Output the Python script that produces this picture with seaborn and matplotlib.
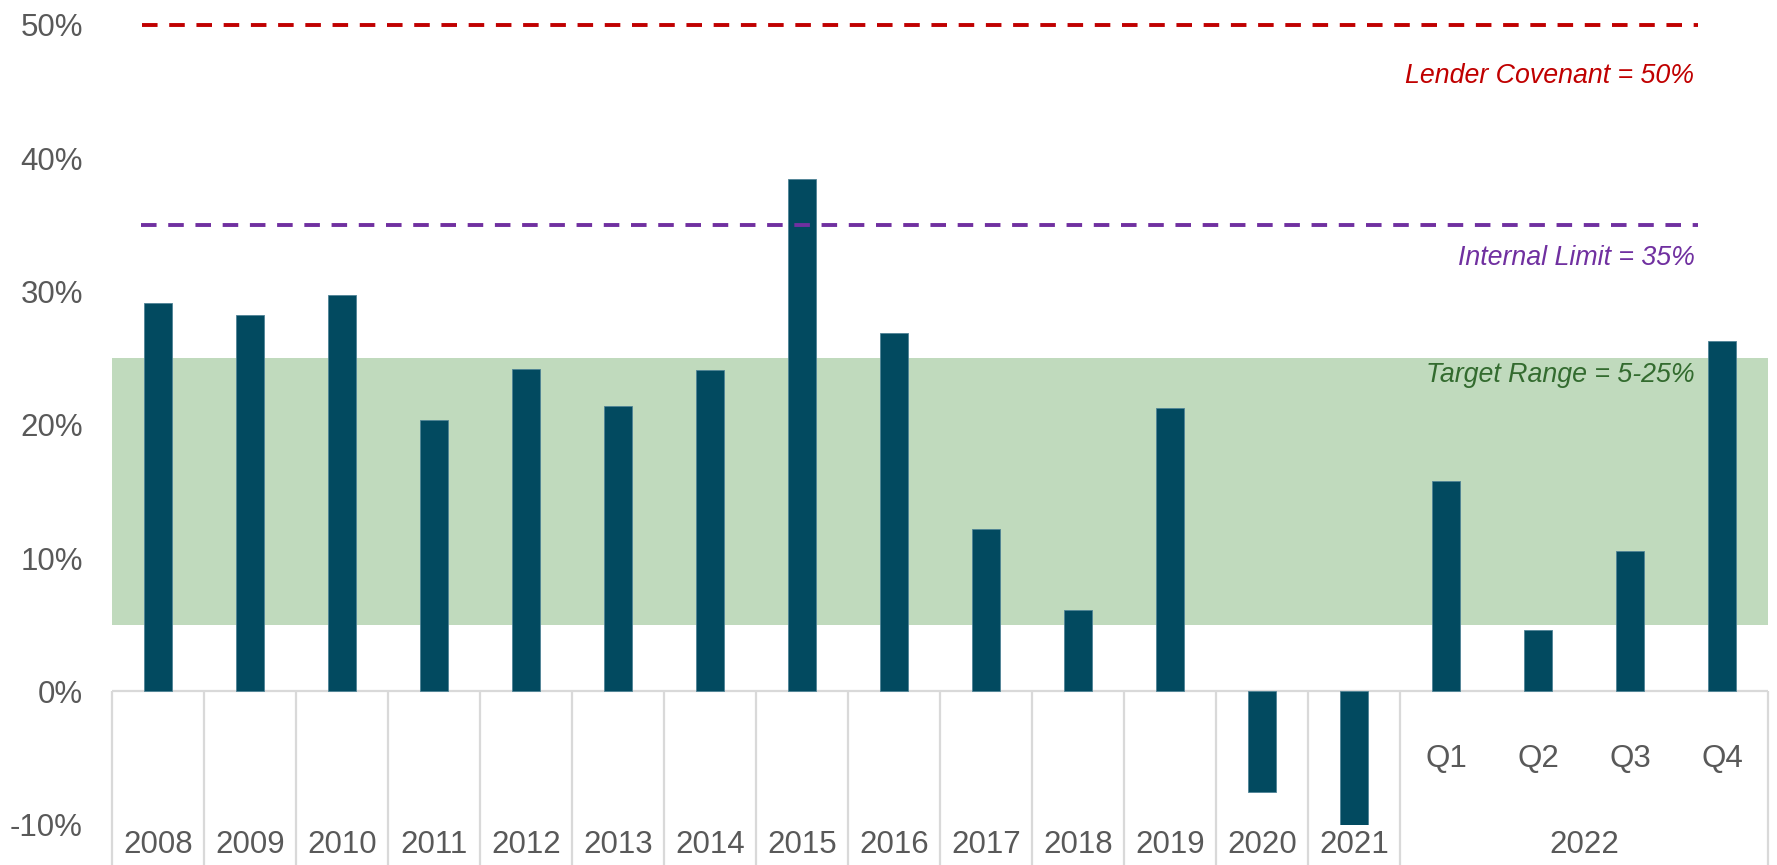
import matplotlib
matplotlib.use("Agg")
import matplotlib.pyplot as plt
import pandas as pd
import seaborn as sns

# Category slots along the x axis (14 years, then 2022 split into quarters)
years = ["2008", "2009", "2010", "2011", "2012", "2013", "2014",
         "2015", "2016", "2017", "2018", "2019", "2020", "2021"]
quarters = ["Q1", "Q2", "Q3", "Q4"]
group_2022 = "2022"
slots = years + [f"{group_2022} {q}" for q in quarters]

# Ratio per slot (fraction)
ratios = [0.2916, 0.2820, 0.2970, 0.2038, 0.2418, 0.2143, 0.2408,
          0.3839, 0.2688, 0.1220, 0.0613, 0.2128, -0.0755, -0.1018,
          0.1575, 0.0458, 0.1050, 0.2625]

# Reference levels
lender_covenant = 0.50
internal_limit = 0.35
target_low, target_high = 0.05, 0.25

y_ticks = [-0.10, 0.0, 0.10, 0.20, 0.30, 0.40, 0.50]

BAR = "#024a60"
GRID = "#d9d9d9"
TXT = "#595959"
RED = "#c00000"
PURPLE = "#7030a0"
GREEN_FILL = "#c0dabd"
GREEN_TXT = "#336b2f"

sns.set_style("white")
plt.rcParams["font.family"] = ["Liberation Sans", "DejaVu Sans"]

df = pd.DataFrame({"slot": slots, "ratio": ratios})

fig = plt.figure(figsize=(17.77, 8.65), dpi=100)
ax = fig.add_axes([112 / 1777, 40.3 / 865, 1656 / 1777, 800 / 865])

# Target band
ax.axhspan(target_low, target_high, color=GREEN_FILL, lw=0, zorder=0)

sns.barplot(data=df, x="slot", y="ratio", order=slots, color=BAR,
            saturation=1, width=0.31, edgecolor="#4f8396", linewidth=0.6,
            ax=ax, zorder=3)

ax.set_xlim(-0.5, len(slots) - 0.5)
ax.set_ylim(-0.10, 0.50)

# Threshold lines
ax.hlines(lender_covenant, -0.17, 16.74, colors=RED, lw=2.8,
          linestyles=(0, (4, 3)), zorder=4, clip_on=False)
ax.hlines(internal_limit, -0.19, 16.74, colors=PURPLE, lw=2.8,
          linestyles=(0, (4, 3)), zorder=4)

lbl_x = 16.70
ax.text(lbl_x, 0.4562, f"Lender Covenant = {lender_covenant:.0%}",
        color=RED, fontsize=19.3, style="italic", ha="right", va="baseline")
ax.text(lbl_x, 0.3195, f"Internal Limit = {internal_limit:.0%}",
        color=PURPLE, fontsize=19.3, style="italic", ha="right", va="baseline")
ax.text(lbl_x, 0.2320,
        f"Target Range = {target_low:.0%}-{target_high:.0%}".replace("%-", "-"),
        color=GREEN_TXT, fontsize=19.3, style="italic", ha="right", va="baseline")

# Category frame below zero
ax.axhline(0, color=GRID, lw=1.6, zorder=2)
bottom = -0.135
n_years = len(years)
edges = list(range(n_years + 1)) + [len(slots)]
ax.vlines([e - 0.5 for e in edges], bottom, 0, colors=GRID, lw=1.6,
          clip_on=False, zorder=1)

for i, y in enumerate(years):
    ax.text(i, -0.1155, y, ha="center", va="center", fontsize=22.5,
            color=TXT, clip_on=False)
for j, q in enumerate(quarters):
    ax.text(n_years + j, -0.0505, q, ha="center", va="center", fontsize=22.5,
            color=TXT)
ax.text(n_years + (len(quarters) - 1) / 2, -0.1155, group_2022, ha="center",
        va="center", fontsize=22.5, color=TXT, clip_on=False)

# Axes styling
ax.set_xticks([])
ax.set_xlabel("")
ax.set_ylabel("")
ax.set_yticks(y_ticks)
ax.set_yticklabels([f"{t:.0%}" for t in y_ticks])
ax.tick_params(axis="y", length=0, pad=21, labelsize=22.5, labelcolor=TXT)
for s in ax.spines.values():
    s.set_visible(False)

fig.savefig("out.png", dpi=100)
